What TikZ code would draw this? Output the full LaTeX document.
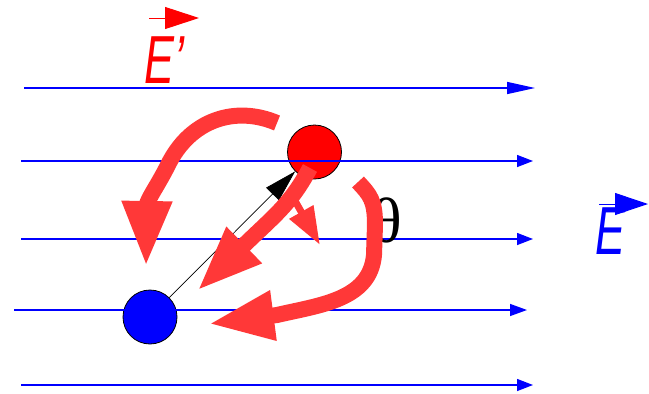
\documentclass[tikz,border=0pt]{standalone}
\usepackage{fontspec}
\usepackage{xcolor}
\usepackage{tikz}
\usetikzlibrary{arrows.meta}
\setmainfont{Liberation Sans}
\newfontfamily\thetafont{Liberation Serif}
\definecolor{FieldBlue}{HTML}{0000FF}
\definecolor{ChargeRed}{HTML}{FF0000}
\definecolor{TorqueRed}{HTML}{FF3838}

\tikzset{
  fieldline/.style={draw=FieldBlue, line width=1.4pt},
  torque/.style={draw=TorqueRed, line width=16pt, line join=round,
                 -{Triangle[length=66pt,width=46pt]}},
  charge/.style={circle, draw=black, line width=0.8pt, minimum size=54pt,
                 inner sep=0pt},
  vectorlabel/.style={inner sep=0pt, anchor=base west,
                      font=\itshape\fontsize{68}{68}\selectfont}
}

\begin{document}
\begin{tikzpicture}[x=1pt, y=-1pt]
        \useasboundingbox (0,0) rectangle (649,394);
        \node[charge, fill=ChargeRed] (plus) at (314.5,152) {};
        \node[charge, fill=FieldBlue] (minus) at (150,317) {};
        \draw[fieldline, -{Triangle[length=28pt,width=12pt]}] (24,88) -- (535,88);
        \foreach \xa/\xb/\yy/\hl in {21/533/161/16, 21/533/239/16,
                                     14/527/310/17, 21/533/385/16}
          \draw[fieldline, -{Triangle[length=\hl pt,width=12pt]}]
            (\xa,\yy) -- (\xb,\yy);
        \draw[line width=0.7pt, -{Triangle[length=32pt,width=18pt]}]
          (minus) -- (plus);
        \node (theta) at (387,220) {\thetafont\fontsize{64}{64}\selectfont θ};
        \draw[torque] (277,123) .. controls (235,105) and (190,120) .. (168,165)
          .. controls (158,185) and (147,200) .. (146,267);
        \draw[torque] (310,168) .. controls (290,205) and (275,215) .. (197,291);
        \draw[draw=TorqueRed, line width=7pt,
              -{Triangle[length=38pt,width=26pt]}] (290,192) -- (320,245);
        \draw[torque] (358,182) .. controls (370,195) and (375,200) .. (375,225)
          -- (374,255) .. controls (370,300) and (320,305) .. (277,315)
          -- (208,324);
        \node[vectorlabel, text=ChargeRed] (eprime) at (144,83)
          {\scalebox{0.66}[1]{E’}};
        \draw[draw=ChargeRed, line width=1pt,
              -{Triangle[length=34pt,width=22pt]}] (149,18) -- (199,18);
        \node[vectorlabel, text=FieldBlue] (efield) at (595,254)
          {\scalebox{0.66}[1]{E}};
        \draw[draw=FieldBlue, line width=1pt,
              -{Triangle[length=33pt,width=22pt]}] (599,204) -- (648,204);
      \end{tikzpicture}
\end{document}
